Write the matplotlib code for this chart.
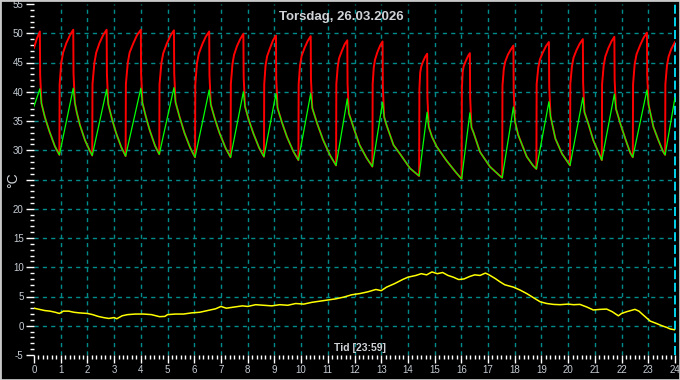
import matplotlib
matplotlib.use("Agg")
import matplotlib.pyplot as plt
import numpy as np
from matplotlib.patches import Rectangle
from matplotlib.ticker import MultipleLocator

# -----------------------------------------------------------------------------
# Data (hour of day, degrees C)
# -----------------------------------------------------------------------------
# Supply temperature (red), one line per heating cycle
red_pts = [
    (0.00, 47.5), (0.10, 49.0), (0.22, 50.3), (0.23, 42.9), (0.28, 38.0), (0.41, 35.6), (0.58, 33.2), (0.78, 30.7),
    (0.95, 29.2), (0.96, 41.3), (1.02, 44.9), (1.09, 46.7), (1.21, 48.3), (1.35, 49.7), (1.47, 50.6), (1.48, 43.1), (1.53, 38.1), (1.60, 36.5), (1.72, 34.3), (1.91, 31.7), (2.10, 29.8),
    (2.18, 29.1), (2.19, 41.3), (2.26, 44.9), (2.33, 46.7), (2.45, 48.3), (2.59, 49.7), (2.72, 50.6), (2.73, 43.0), (2.78, 37.9), (2.91, 35.5), (3.07, 33.0), (3.27, 30.5),
    (3.43, 29.0), (3.44, 41.3), (3.51, 44.9), (3.58, 46.7), (3.72, 48.3), (3.86, 49.7), (4.00, 50.6), (4.01, 43.1), (4.06, 38.1), (4.19, 35.7), (4.34, 33.3), (4.53, 30.8),
    (4.69, 29.3), (4.70, 41.3), (4.77, 44.9), (4.84, 46.6), (4.97, 48.2), (5.11, 49.6), (5.24, 50.5), (5.25, 43.1), (5.30, 38.2), (5.45, 35.7), (5.63, 33.0), (5.85, 30.4),
    (6.03, 28.8), (6.04, 41.3), (6.10, 44.8), (6.17, 46.5), (6.30, 48.1), (6.43, 49.4), (6.56, 50.3), (6.57, 42.8), (6.62, 37.8), (6.77, 35.4), (6.95, 32.9), (7.18, 30.3),
    (7.36, 28.8), (7.37, 41.3), (7.43, 44.7), (7.49, 46.3), (7.60, 47.8), (7.72, 49.0), (7.84, 49.9), (7.85, 42.5), (7.90, 37.5), (8.04, 35.2), (8.22, 32.8), (8.43, 30.4),
    (8.61, 28.9), (8.62, 41.3), (8.67, 44.5), (8.73, 46.1), (8.84, 47.5), (8.95, 48.8), (9.06, 49.6), (9.07, 42.2), (9.12, 37.2), (9.28, 34.8), (9.47, 32.3), (9.71, 29.8),
    (9.90, 28.3), (9.91, 41.3), (9.96, 44.5), (10.02, 46.1), (10.13, 47.5), (10.25, 48.7), (10.36, 49.5), (10.37, 42.1), (10.42, 37.2), (10.60, 34.6), (10.82, 31.8), (11.09, 29.1),
    (11.31, 27.4), (11.32, 41.3), (11.37, 44.2), (11.42, 45.7), (11.52, 46.9), (11.63, 48.1), (11.73, 48.8), (11.74, 41.3), (11.79, 36.3), (11.97, 33.8), (12.19, 30.9), (12.45, 28.7),
    (12.67, 27.2), (12.68, 41.3), (12.72, 44.1), (12.77, 45.5), (12.86, 46.8), (12.96, 47.9), (13.05, 48.6), (13.06, 40.9), (13.11, 35.7), (13.20, 34.3), (13.46, 30.9), (13.70, 29.4), (14.08, 26.9),
    (14.42, 25.6), (14.43, 40.5), (14.46, 43.3), (14.50, 44.3), (14.57, 45.2), (14.65, 46.0), (14.72, 46.5), (14.73, 39.0), (14.78, 34.0), (14.90, 32.3), (15.08, 30.6), (15.45, 28.2), (15.80, 26.2),
    (16.01, 25.1), (16.02, 40.5), (16.05, 43.4), (16.09, 44.4), (16.17, 45.3), (16.25, 46.1), (16.32, 46.6), (16.33, 39.0), (16.38, 33.9), (16.45, 33.1), (16.70, 29.7), (17.07, 27.2), (17.40, 25.8),
    (17.53, 25.3), (17.54, 41.0), (17.59, 43.9), (17.64, 45.1), (17.74, 46.3), (17.85, 47.2), (17.95, 47.9), (17.96, 40.1), (18.01, 34.9), (18.13, 32.6), (18.45, 28.9), (18.68, 27.4),
    (18.81, 26.8), (18.82, 41.3), (18.88, 44.1), (18.94, 45.5), (19.05, 46.7), (19.17, 47.8), (19.28, 48.5), (19.29, 40.9), (19.34, 35.8), (19.52, 32.0), (19.77, 29.4), (19.98, 28.0),
    (20.07, 27.4), (20.08, 41.3), (20.14, 44.3), (20.20, 45.8), (20.31, 47.1), (20.43, 48.2), (20.55, 49.0), (20.56, 41.5), (20.61, 36.5), (20.75, 34.6), (20.94, 31.7), (21.13, 29.7),
    (21.26, 28.3), (21.27, 41.3), (21.33, 44.5), (21.39, 46.0), (21.50, 47.4), (21.62, 48.6), (21.73, 49.4), (21.74, 42.0), (21.79, 37.1), (21.97, 34.3), (22.16, 31.7), (22.33, 29.5),
    (22.42, 28.8), (22.43, 41.3), (22.49, 44.7), (22.56, 46.4), (22.69, 47.9), (22.82, 49.2), (22.95, 50.1), (22.96, 42.7), (23.01, 37.8), (23.19, 34.0), (23.38, 31.7), (23.55, 29.8),
    (23.63, 29.2), (23.64, 41.3), (23.70, 44.5), (23.76, 46.0), (23.86, 47.3), (24.00, 48.5),
]

# Return temperature (green)
green_pts = [
    (0.00, 37.5), (0.22, 40.5), (0.28, 38.0), (0.41, 35.6), (0.58, 33.2), (0.78, 30.7),
    (0.95, 29.2), (1.47, 40.6), (1.53, 38.1), (1.60, 36.5), (1.72, 34.3), (1.91, 31.7), (2.10, 29.8),
    (2.18, 29.1), (2.72, 40.4), (2.78, 37.9), (2.91, 35.5), (3.07, 33.0), (3.27, 30.5),
    (3.43, 29.0), (4.00, 40.6), (4.06, 38.1), (4.19, 35.7), (4.34, 33.3), (4.53, 30.8),
    (4.69, 29.3), (5.24, 40.7), (5.30, 38.2), (5.45, 35.7), (5.63, 33.0), (5.85, 30.4),
    (6.03, 28.8), (6.56, 40.3), (6.62, 37.8), (6.77, 35.4), (6.95, 32.9), (7.18, 30.3),
    (7.36, 28.8), (7.84, 40.0), (7.90, 37.5), (8.04, 35.2), (8.22, 32.8), (8.43, 30.4),
    (8.61, 28.9), (9.06, 39.7), (9.12, 37.2), (9.28, 34.8), (9.47, 32.3), (9.71, 29.8),
    (9.90, 28.3), (10.36, 39.7), (10.42, 37.2), (10.60, 34.6), (10.82, 31.8), (11.09, 29.1),
    (11.31, 27.4), (11.73, 38.8), (11.79, 36.3), (11.97, 33.8), (12.19, 30.9), (12.45, 28.7),
    (12.67, 27.2), (13.05, 38.2), (13.11, 35.7), (13.20, 34.3), (13.46, 30.9), (13.70, 29.4), (14.08, 26.9),
    (14.42, 25.6), (14.72, 36.5), (14.78, 34.0), (14.90, 32.3), (15.08, 30.6), (15.45, 28.2), (15.80, 26.2),
    (16.01, 25.1), (16.32, 36.4), (16.38, 33.9), (16.45, 33.1), (16.70, 29.7), (17.07, 27.2), (17.40, 25.8),
    (17.53, 25.3), (17.95, 37.4), (18.01, 34.9), (18.13, 32.6), (18.45, 28.9), (18.68, 27.4),
    (18.81, 26.8), (19.28, 38.3), (19.34, 35.8), (19.52, 32.0), (19.77, 29.4), (19.98, 28.0),
    (20.07, 27.4), (20.55, 39.0), (20.61, 36.5), (20.75, 34.6), (20.94, 31.7), (21.13, 29.7),
    (21.26, 28.3), (21.73, 39.6), (21.79, 37.1), (21.97, 34.3), (22.16, 31.7), (22.33, 29.5),
    (22.42, 28.8), (22.95, 40.3), (23.01, 37.8), (23.19, 34.0), (23.38, 31.7), (23.55, 29.8),
    (23.63, 29.2), (24.00, 39.0),
]

# Outdoor temperature (yellow)
outdoor_pts = [
    (0.00, 3.0), (0.20, 2.8), (0.40, 2.6), (0.60, 2.5), (0.80, 2.3), (0.95, 2.1), (1.10, 2.5), (1.30, 2.5),
    (1.50, 2.3), (1.70, 2.2), (2.00, 2.1), (2.20, 1.9), (2.40, 1.6), (2.60, 1.4), (2.80, 1.25), (3.00, 1.4),
    (3.10, 1.2), (3.30, 1.7), (3.50, 1.9), (3.80, 2.0), (4.10, 2.0), (4.40, 1.9), (4.70, 1.55), (4.90, 1.6),
    (5.00, 1.9), (5.30, 2.0), (5.60, 2.0), (5.90, 2.2), (6.20, 2.3), (6.50, 2.6), (6.80, 2.9), (7.00, 3.3),
    (7.20, 3.0), (7.50, 3.2), (7.80, 3.4), (8.00, 3.3), (8.30, 3.6), (8.60, 3.5), (8.90, 3.4), (9.20, 3.6),
    (9.50, 3.5), (9.80, 3.8), (10.10, 3.7), (10.40, 4.0), (10.70, 4.2), (11.00, 4.4), (11.30, 4.6), (11.60, 4.9),
    (11.90, 5.3), (12.20, 5.5), (12.50, 5.8), (12.80, 6.2), (13.00, 6.0), (13.20, 6.6), (13.50, 7.2), (13.80, 7.9),
    (14.00, 8.3), (14.30, 8.6), (14.50, 8.9), (14.70, 8.7), (14.90, 9.2), (15.10, 8.9), (15.30, 9.1), (15.50, 8.6),
    (15.70, 8.3), (15.90, 7.9), (16.10, 8.0), (16.30, 8.4), (16.50, 8.7), (16.70, 8.6), (16.90, 9.0), (17.00, 8.8),
    (17.26, 8.1), (17.45, 7.5), (17.63, 7.0), (17.95, 6.6), (18.20, 6.1), (18.45, 5.5), (18.70, 4.8), (18.95, 4.1),
    (19.20, 3.8), (19.45, 3.65), (19.70, 3.6), (20.00, 3.7), (20.20, 3.6), (20.44, 3.65), (20.70, 3.2), (20.94, 2.7),
    (21.20, 2.8), (21.44, 2.85), (21.65, 2.4), (21.88, 1.7), (22.00, 2.1), (22.19, 2.4), (22.50, 2.8), (22.65, 2.5),
    (22.82, 1.8), (23.07, 0.8), (23.30, 0.4), (23.51, 0.0), (23.70, -0.3), (23.82, -0.55), (24.00, -0.7),
]

x_ticks = list(range(0, 25))
y_ticks = list(range(-5, 56, 5))
# the "25" label is covered by the unit text in the original
y_tick_labels = ["" if v == 25 else str(v) for v in y_ticks]
title_text = "Torsdag, 26.03.2026"
x_label = "Tid [23:59]"
y_label = "°C"

# -----------------------------------------------------------------------------
# Figure
# -----------------------------------------------------------------------------
plt.rcParams["font.family"] = ["Liberation Sans", "DejaVu Sans"]
label_col = "#c4ccd4"

fig = plt.figure(figsize=(6.8, 3.8), dpi=100, facecolor="black")
ax = fig.add_axes([34 / 680, 25 / 380, 641 / 680, 351 / 380])
ax.set_facecolor("black")

# grid lines (none on the frame edges)
for h in x_ticks[1:-1]:
    ax.axvline(h, color="#008b8b", linestyle=(0, (3, 3)), linewidth=1, zorder=1)
for v in y_ticks[1:-1]:
    ax.axhline(v, color="#008b8b", linestyle=(0, (3, 3)), linewidth=1, zorder=1)
# current time marker at the right edge
ax.axvline(24, color="#00e5ff", linestyle=(0, (5, 2)), linewidth=1.3, clip_on=False, zorder=2)

red = np.array(red_pts)
green = np.array(green_pts)
outdoor = np.array(outdoor_pts)
ax.plot(red[:, 0], red[:, 1], color="#ff0000", linewidth=1.4, zorder=3)
ax.plot(green[:, 0], green[:, 1], color="#00ff00", linewidth=0.9, zorder=4)
ax.plot(outdoor[:, 0], outdoor[:, 1], color="#ffff00", linewidth=1.1, zorder=5)

ax.set_xlim(0, 24)
ax.set_ylim(-5, 55)
ax.set_xticks(x_ticks)
ax.set_yticks(y_ticks)
ax.set_yticklabels(y_tick_labels)
ax.xaxis.set_minor_locator(MultipleLocator(1 / 6))
ax.yaxis.set_minor_locator(MultipleLocator(1))
ax.tick_params(which="major", direction="out", colors="white", labelcolor=label_col,
               labelsize=7, length=5.5, width=1, pad=2)
ax.tick_params(which="minor", direction="out", colors="white", length=3, width=1)
for s in ax.spines.values():
    s.set_visible(False)

# texts
fig.text(341 / 680, 1 - 17 / 380, title_text, ha="center", va="center",
         color="#d0d4d8", fontsize=9.5, fontweight="bold")
fig.text(360 / 680, 1 - 348 / 380, x_label, ha="center", va="center",
         color="#d0d4d8", fontsize=7.5, fontweight="bold")
fig.text(13 / 680, 1 - 180 / 380, y_label, ha="center", va="center",
         color="#d0d4d8", fontsize=10, rotation=90)

# light frame around the picture
fig.add_artist(Rectangle((0, 0), 1, 1, transform=fig.transFigure, fill=False,
                         edgecolor="#c8c8c8", linewidth=2))

fig.savefig("out.png", dpi=100, facecolor="black")
